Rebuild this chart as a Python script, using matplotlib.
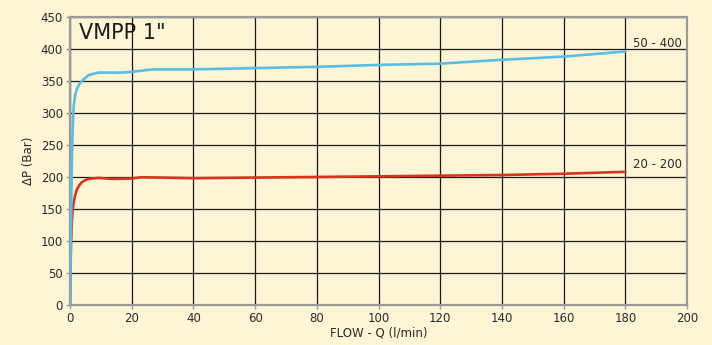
import matplotlib
matplotlib.use("Agg")
import matplotlib.pyplot as plt

# Data
flow_blue = [0, 0.3, 0.6, 0.9, 1.2, 1.7, 2.2, 3, 3.9, 5, 6, 7.5, 9.2, 12, 16.7, 20, 23, 27, 30, 40, 60, 80, 100, 120, 140, 160, 180]
dp_blue   = [0, 110, 220, 280, 311, 328, 337, 345, 350, 355, 359, 361, 363, 363, 363, 364, 366, 368, 368, 368, 370, 372, 375, 377, 383, 388, 396]
flow_red  = [0, 0.3, 0.6, 0.9, 1.2, 1.7, 2.2, 3, 3.9, 5, 6, 9.2, 13.5, 20, 23, 30, 40, 60, 80, 100, 120, 140, 160, 180]
dp_red    = [0, 90, 130, 150, 160, 172, 180, 187, 192, 195, 197, 198.5, 197, 197.5, 199.5, 199, 198, 199, 200, 201, 202, 203, 205, 208]
series_labels = ["50 - 400", "20 - 200"]
x_ticks = list(range(0, 201, 20))
y_ticks = list(range(0, 451, 50))

bg = "#FDF5D5"
txt = "#2a2a2a"

fig = plt.figure(figsize=(7.12, 3.45), dpi=100, facecolor=bg)
ax = fig.add_axes([0.0983, 0.116, 0.8667, 0.835], facecolor=bg)

ax.plot(flow_red, dp_red, color="#D9341B", lw=1.9, solid_capstyle="round", solid_joinstyle="round", zorder=3)
ax.plot(flow_blue, dp_blue, color="#5BBDE3", lw=1.9, solid_capstyle="round", solid_joinstyle="round", zorder=4)

ax.set_xlim(0, 200)
ax.set_ylim(0, 450)
ax.set_xticks(x_ticks)
ax.set_yticks(y_ticks)
ax.grid(True, color="#1a1a1a", lw=0.9)
ax.set_axisbelow(True)
for s in ax.spines.values():
    s.set_color("#9a9a9a")
    s.set_linewidth(1.6)
ax.tick_params(colors="#9a9a9a", labelcolor=txt, labelsize=8.5, length=3, width=1, pad=2)

ax.set_xlabel("FLOW - Q (l/min)", color=txt, fontsize=8.5, labelpad=1)
ax.set_ylabel("ΔP (Bar)", color=txt, fontsize=8.5, labelpad=4)

ax.text(3, 440, 'VMPP 1"', color="#1a1a1a", fontsize=15, va="top", ha="left")
ax.text(182.5, 398, series_labels[0], color=txt, fontsize=8.5, va="bottom", ha="left")
ax.text(182.5, 209, series_labels[1], color=txt, fontsize=8.5, va="bottom", ha="left")

fig.savefig("out.png", dpi=100, facecolor=bg)
